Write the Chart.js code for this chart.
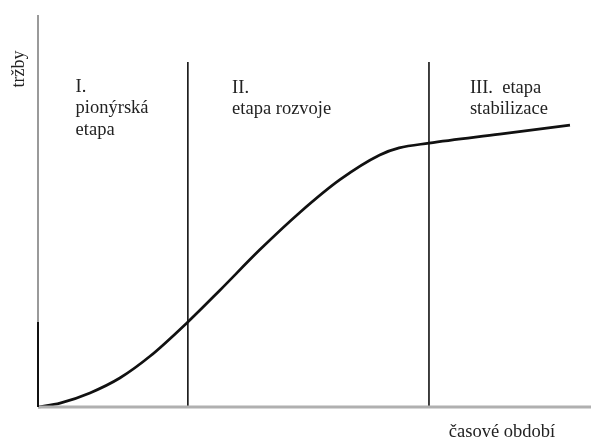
<!DOCTYPE html>
<html>
<head>
<meta charset="utf-8">
<script src="https://cdn.jsdelivr.net/npm/chart.js@4.4.1/dist/chart.umd.min.js"></script>
<style>
  html, body { margin: 0; padding: 0; background: #fff; }
  #wrap { width: 591px; height: 439px; position: relative; }
</style>
</head>
<body>
<div id="wrap"><canvas id="lifeCycle"></canvas></div>
<script>
// curve of sales over time (x, y in 0..100 units)
var curveX = [0, 4, 9.4, 14.8, 20.3, 27.1, 32.9, 40.1, 47.4, 54.6, 61.8, 65.3, 70.7, 83.5, 96.2];
var curveY = [0, 1.0, 3.6, 7.4, 13.0, 21.7, 29.8, 40.1, 49.7, 58.0, 64.3, 66.1, 67.3, 69.6, 71.9];

// stage borders
var borderX = [27.1, 70.7];
var borderTop = 88;

// stage labels: lines of text and their anchor
var stageLines = [
    ['I.', 'pionýrská', 'etapa'],
    ['II.', 'etapa rozvoje'],
    ['III.  etapa', 'stabilizace']
];
var stageX = [6.8, 35.1, 78.1];
var stageY = [80.4, 80.2, 80.2];

var yTitle = 'tržby';
var xTitle = 'časové období';

const points = (xs, ys) => xs.map((x, i) => ({x: x, y: ys[i]}));

var datasets = [];

// y axis: lower part black, upper part gray (as in picture)
datasets.push({
    data: [{x: 0, y: curveY[5]}, {x: 0, y: 100}],
    borderColor: '#9a9a9a', borderWidth: 2, pointRadius: 0
});
datasets.push({
    data: [{x: 0, y: 0}, {x: 0, y: curveY[5]}],
    borderColor: '#111', borderWidth: 2, pointRadius: 0
});
// x axis
datasets.push({
    data: [{x: 0, y: 0}, {x: 100, y: 0}],
    borderColor: '#b0b0b0', borderWidth: 3, pointRadius: 0
});

borderX.forEach(bx => {
    datasets.push({
        data: [{x: bx, y: 0}, {x: bx, y: borderTop}],
        borderColor: '#111', borderWidth: 1.6, pointRadius: 0
    });
});

datasets.push({
    data: points(curveX, curveY),
    borderColor: '#111', borderWidth: 2.7, pointRadius: 0,
    cubicInterpolationMode: 'monotone'
});

const labelsPlugin = {
    id: 'labels',
    afterDraw(chart) {
        const ctx = chart.ctx, xs = chart.scales.x, ys = chart.scales.y;
        ctx.save();
        ctx.fillStyle = '#222';
        ctx.textBaseline = 'alphabetic';
        ctx.font = '18.5px "Liberation Serif", serif';
        stageLines.forEach((lines, i) => {
            let px = xs.getPixelForValue(stageX[i]);
            let py = ys.getPixelForValue(stageY[i]);
            lines.forEach((t, j) => ctx.fillText(t, px, py + j * 21.5));
        });
        // x title under the axis, right side
        ctx.textAlign = 'center';
        ctx.fillText(xTitle, xs.getPixelForValue(83.9), ys.getPixelForValue(0) + 30);
        // y title rotated
        ctx.font = '18px "Liberation Serif", serif';
        ctx.translate(xs.getPixelForValue(0) - 14, ys.getPixelForValue(86.2));
        ctx.rotate(-Math.PI / 2);
        ctx.fillText(yTitle, 0, 0);
        ctx.restore();
    }
};

new Chart(document.getElementById('lifeCycle').getContext('2d'), {
    type: 'scatter',
    data: {datasets: datasets},
    options: {
        responsive: true,
        maintainAspectRatio: false,
        animation: false,
        showLine: true,
        clip: false,
        layout: {padding: {left: 38, top: 15, right: 0, bottom: 32}},
        plugins: {legend: {display: false}, tooltip: {enabled: false}},
        scales: {
            x: {type: 'linear', min: 0, max: 100, display: false},
            y: {type: 'linear', min: 0, max: 100, display: false}
        }
    },
    plugins: [labelsPlugin]
});
</script>
</body>
</html>
